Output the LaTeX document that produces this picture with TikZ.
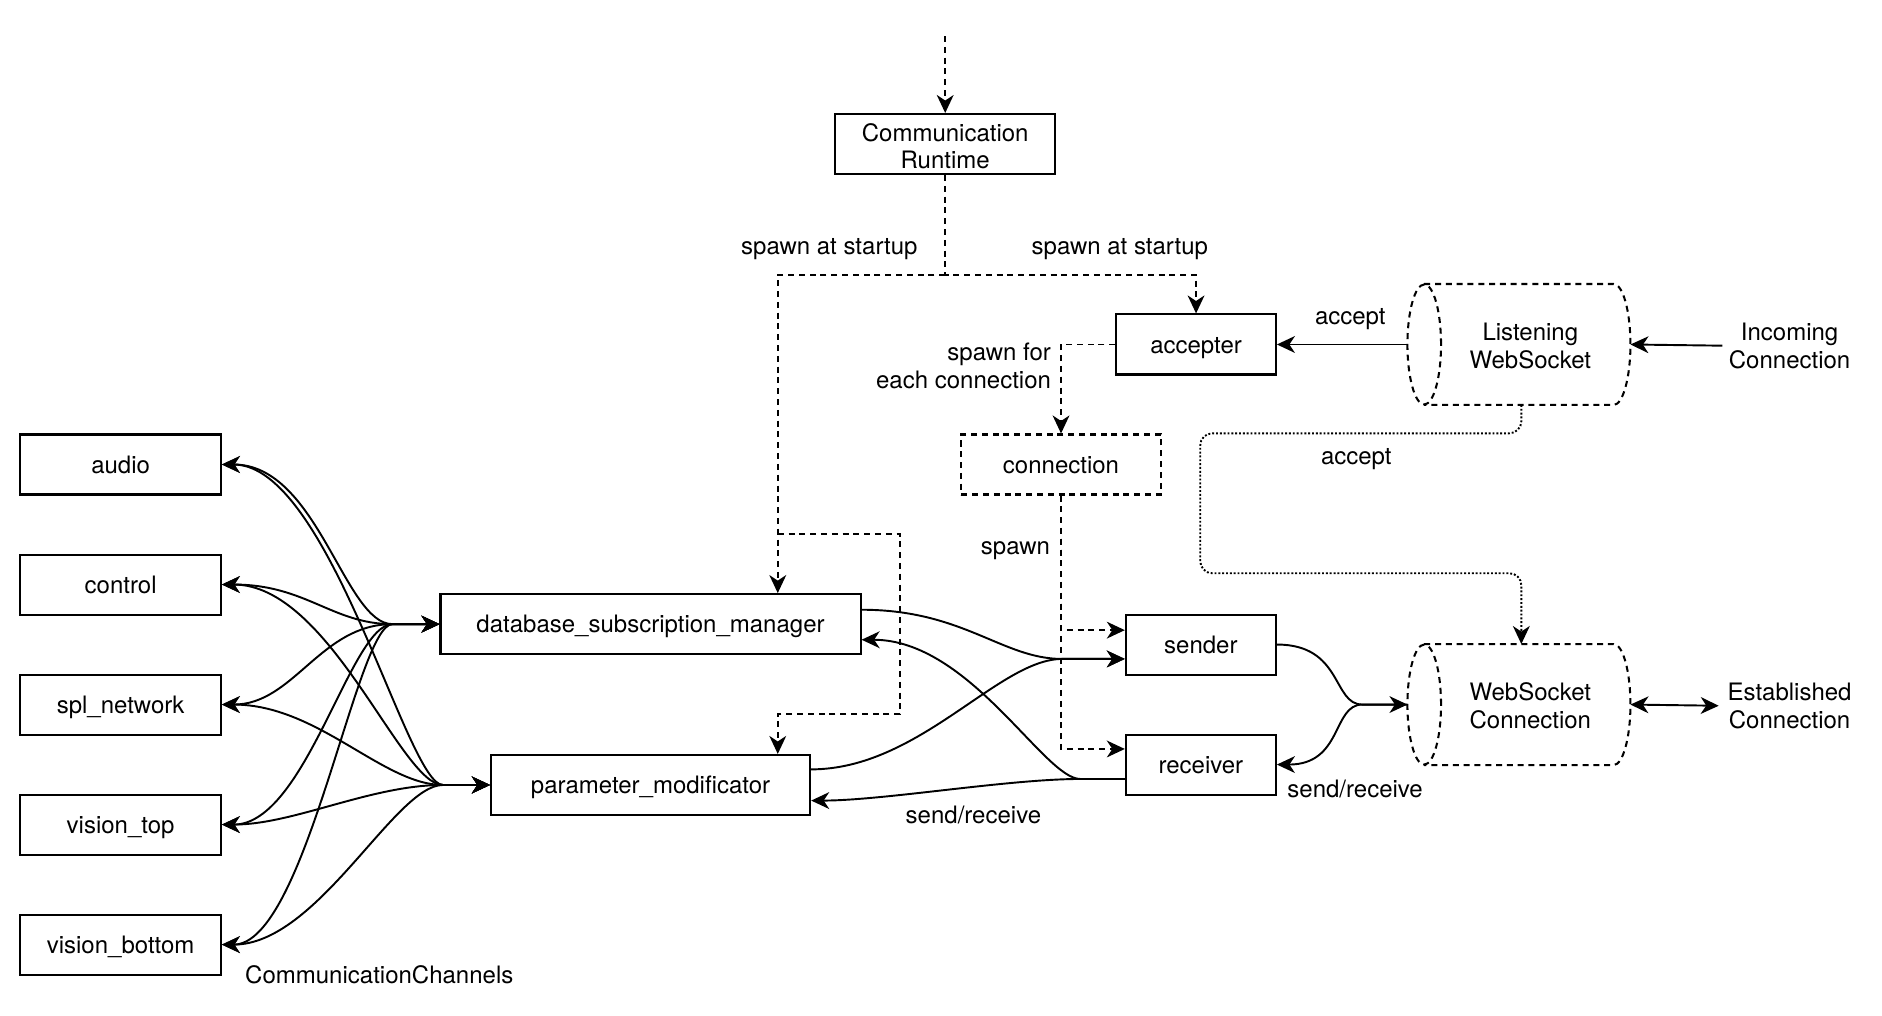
\documentclass[tikz,border=0pt]{standalone}
\usepackage{fontspec}
\setmainfont{TeX Gyre Heros}
\usetikzlibrary{arrows.meta,calc}
\begin{document}
\begin{tikzpicture}[x=0.5pt,y=-0.5pt,
  font=\fontsize{10pt}{11.6pt}\selectfont,
  lw/.style={line width=0.85pt},
  one/.style={text height=8.6pt,text depth=1.4pt},
  box/.style={draw,lw,minimum height=25pt,inner sep=0pt,align=center},
  sbox/.style={box,one},
  dbox/.style={sbox,dash pattern=on 2.5pt off 2pt},
  lbl/.style={inner sep=0pt,align=center},
  slbl/.style={lbl,one},
  tip/.tip={Stealth[length=7.5pt,width=7pt,inset=2.3pt]},
  arr/.style={line width=0.8pt,-tip},
  barr/.style={line width=0.8pt,tip-tip},
  darr/.style={arr,dash pattern=on 2.5pt off 2pt},
  dotarr/.style={arr,line width=0.8pt,dash pattern=on 0.8pt off 0.8pt,rounded corners=5pt},
  cylbody/.style={lw,dash pattern=on 2.5pt off 2pt},
]
\useasboundingbox (0,0) rectangle (1568,846);

% channel boxes
\node[sbox,minimum width=83.5pt] (audio) at (100.5,387) {audio};
\node[sbox,minimum width=83.5pt] (control) at (100.5,487) {control};
\node[sbox,minimum width=83.5pt] (spl) at (100.5,587) {spl\_network};
\node[sbox,minimum width=83.5pt] (vtop) at (100.5,687) {vision\_top};
\node[sbox,minimum width=83.5pt] (vbot) at (100.5,787) {vision\_bottom};
\node[slbl] (cclbl) at (316,812) {CommunicationChannels};

% main boxes
\node[box,minimum width=91.5pt,text height=20.8pt,text depth=0pt] (cr) at (787.5,120) {Communication\\Runtime};
\node[sbox,minimum width=175pt] (db) at (542,520) {database\_subscription\_manager};
\node[sbox,minimum width=133pt] (pm) at (542,654) {parameter\_modificator};
\node[sbox,minimum width=66.5pt] (acc) at (996.5,287) {accepter};
\node[dbox,minimum width=83pt] (cn) at (884,387) {connection};
\node[sbox,minimum width=62.5pt] (snd) at (1000.5,537) {sender};
\node[sbox,minimum width=62.5pt] (rcv) at (1000.5,637) {receiver};

% cylinders
\newcommand\drawcyl[1]{%
  \draw[cylbody] ($(#1.west)+(14,0)$) ellipse [x radius=7pt,y radius=25pt];
  \draw[cylbody] ($(#1.north west)+(14,0)$) -- ($(#1.north east)+(-14,0)$)
     .. controls +(7.7,0) and +(0,-27.6) .. (#1.east)
     .. controls +(0,27.6) and +(7.7,0) .. ($(#1.south east)+(-14,0)$)
     -- ($(#1.south west)+(14,0)$);
}
\node[minimum width=92.5pt,minimum height=50pt,inner sep=0pt] (lws) at (1265.5,287) {};
\node[lbl] (lwst) at (1275,288) {Listening\\WebSocket};
\drawcyl{lws}
\node[minimum width=92.5pt,minimum height=50pt,inner sep=0pt] (wsc) at (1265.5,587) {};
\node[lbl] (wsct) at (1275,588) {WebSocket\\Connection};
\drawcyl{wsc}

\node[lbl] (inc) at (1491,288) {Incoming\\Connection};
\node[lbl] (est) at (1491,588) {Established\\Connection};

% top spawn edges
\coordinate (topin) at (787.5,30);
\coordinate (sp) at (787.5,229);
\coordinate (sp2) at (648,445);
\draw[darr] (topin) -- (cr.north);
\draw[darr] (cr.south) -- (sp) -| (acc.north);
\draw[darr] (sp) -| ($(db.north)+(106,0)$);
\draw[darr] (sp2) -- (750,445) -- (750,595) -| ($(pm.north)+(106,0)$);
\node[slbl] (sal) at (691,205) {spawn at startup};
\node[slbl] (sar) at (933,205) {spawn at startup};

% accepter -> connection
\draw[darr] (acc.west) -| (cn.north);
\node[lbl,anchor=east,align=right] (sfe) at (876,305) {spawn for\\each connection};

% connection -> sender / receiver
\draw[darr] (cn.south) |- ($(snd.west)+(0,-12)$);
\draw[darr] (cn.south) |- ($(rcv.west)+(0,-13)$);
\node[slbl] (spl2) at (846,455) {spawn};

% listening websocket
\draw[arr] (lws.west) -- (acc.east);
\node[slbl] (acl) at (1125,263) {accept};
\draw[arr] ($(inc.west)+(-5,0)$) -- (lws.east);
\draw[dotarr] ($(lws.south)+(2,0)$) |- (1000,361) |- ($(wsc.north)+(2,-59)$) -- ($(wsc.north)+(2,0)$);
\node[slbl] (acl2) at (1130,380) {accept};
\draw[barr] (wsc.east) -- ($(est.west)+(-7,0)$);

% channel fans
\coordinate (fanD) at (327,520);
\coordinate (fanP) at (369,654);
\draw[barr] (audio.east) .. controls +(80,0) and +(-40,0) .. (fanD) -- (db.west);
\draw[barr] (control.east) .. controls +(70,0) and +(-50,0) .. (fanD) -- (db.west);
\draw[barr] (spl.east) .. controls +(60,0) and +(-60,0) .. (fanD) -- (db.west);
\draw[barr] (vtop.east) .. controls +(70,0) and +(-35,0) .. (fanD) -- (db.west);
\draw[barr] (vbot.east) .. controls +(70,0) and +(-30,0) .. (fanD) -- (db.west);
\draw[barr] (audio.east) .. controls +(90,0) and +(-30,0) .. (fanP) -- (pm.west);
\draw[barr] (control.east) .. controls +(90,0) and +(-35,0) .. (fanP) -- (pm.west);
\draw[barr] (spl.east) .. controls +(80,0) and +(-50,0) .. (fanP) -- (pm.west);
\draw[barr] (vtop.east) .. controls +(60,0) and +(-60,0) .. (fanP) -- (pm.west);
\draw[barr] (vbot.east) .. controls +(80,0) and +(-40,0) .. (fanP) -- (pm.west);

% db / pm <-> sender / receiver
\coordinate (sfan) at (885,549);
\coordinate (rfan) at (900,649);
\draw[arr] ($(db.east)+(0,-12)$) .. controls +(85,0) and +(-50,0) .. (sfan) -- ($(snd.west)+(0,12)$);
\draw[arr] ($(pm.east)+(0,-13)$) .. controls +(90,0) and +(-53,0) .. (sfan) -- ($(snd.west)+(0,12)$);
\draw[arr] ($(rcv.west)+(0,12)$) -- (rfan) .. controls +(-30,0) and +(90,0) .. ($(db.east)+(0,13)$);
\draw[arr] ($(rcv.west)+(0,12)$) -- (rfan) .. controls +(-60,0) and +(60,0) .. ($(pm.east)+(0,13)$);
\node[slbl] (srl) at (811,679) {send/receive};

% sender / receiver <-> websocket connection
\coordinate (wfan) at (1135,587);
\draw[arr] (snd.east) .. controls +(55,0) and +(-25,0) .. (wfan) -- (wsc.west);
\draw[arr] (wsc.west) -- (wfan) .. controls +(-25,0) and +(55,0) .. (rcv.east);
\node[slbl] (srr) at (1129,657) {send/receive};
\end{tikzpicture}
\end{document}
